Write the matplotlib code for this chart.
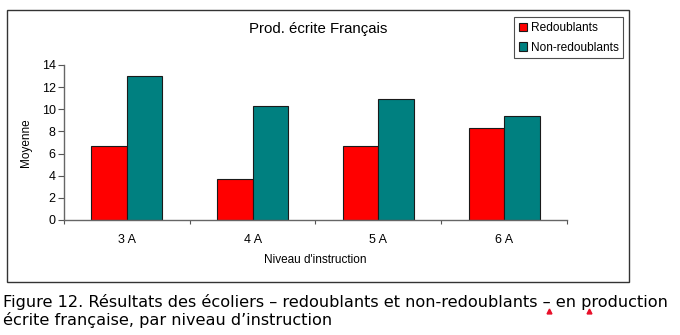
import matplotlib
matplotlib.use("Agg")
import matplotlib.pyplot as plt
import numpy as np
from matplotlib.patches import Rectangle
from matplotlib.lines import Line2D

# data
niveaux = ["3 A", "4 A", "5 A", "6 A"]
redoublants = [6.7, 3.7, 6.7, 8.3]
non_redoublants = [13.0, 10.3, 10.9, 9.4]
y_ticks = [0, 2, 4, 6, 8, 10, 12, 14]

plt.rcParams['font.family'] = ['Liberation Sans', 'DejaVu Sans']

fig = plt.figure(figsize=(6.8, 3.35), dpi=100)
ax = fig.add_axes([0.0941, 0.3433, 0.7397, 0.4627])

# outer frame around the chart
fig.patches.append(Rectangle((0.0103, 0.158), 0.9147, 0.812, transform=fig.transFigure,
                             fill=False, edgecolor='#333333', linewidth=1.0))

x = np.arange(len(niveaux))
w = 0.283
ax.bar(x - w/2, redoublants, w, color='#ff0000', edgecolor='#1a1a1a', linewidth=0.8,
       label='Redoublants')
ax.bar(x + w/2, non_redoublants, w, color='#008080', edgecolor='#1a1a1a', linewidth=0.8,
       label='Non-redoublants')

ax.set_xlim(-0.5, len(niveaux) - 0.5)
ax.set_ylim(0, 14)
ax.set_yticks(y_ticks)
ax.set_xticks(x)
ax.set_xticklabels(niveaux)
ax.set_xticks(np.arange(len(niveaux) + 1) - 0.5, minor=True)
ax.tick_params(axis='x', which='major', length=0, pad=10, labelsize=9)
ax.tick_params(axis='x', which='minor', length=3, width=0.8, color='#555555', direction='out')
ax.tick_params(axis='y', length=4, width=0.8, color='#555555', labelsize=9, pad=2)

for s in ['top', 'right']:
    ax.spines[s].set_visible(False)
for s in ['left', 'bottom']:
    ax.spines[s].set_color('#666666')
    ax.spines[s].set_linewidth(1.0)

ax.set_ylabel('Moyenne', fontsize=8.5, labelpad=7)
ax.set_xlabel("Niveau d'instruction", fontsize=8.5, labelpad=6)

fig.text(0.468, 0.913, 'Prod. écrite Français', ha='center', va='center', fontsize=10.8)

leg = fig.legend(loc='upper left', bbox_to_anchor=(0.756, 0.949), fontsize=8.6,
                 frameon=True, fancybox=False, edgecolor='#222222',
                 handlelength=0.7, handleheight=0.7, handletextpad=0.3,
                 borderpad=0.4, labelspacing=0.65, borderaxespad=0)
leg.get_frame().set_linewidth(0.8)

cap = ['DejaVu Sans']
fig.text(0.004, 1 - 307 / 335, 'Figure 12. Résultats des écoliers – redoublants et non-redoublants – en production',
         ha='left', va='baseline', fontsize=11.6, family=cap)
fig.text(0.004, 1 - 325 / 335, 'écrite française, par niveau d’instruction',
         ha='left', va='baseline', fontsize=11.6, family=cap)

# little red spell-check marks under the caption
for mx in (549 / 680, 588.5 / 680):
    fig.add_artist(Line2D([mx], [1 - 311 / 335], marker='^', markersize=3.5,
                          color='#e8102a', linestyle='none', transform=fig.transFigure))

plt.savefig('out.png', dpi=100)
